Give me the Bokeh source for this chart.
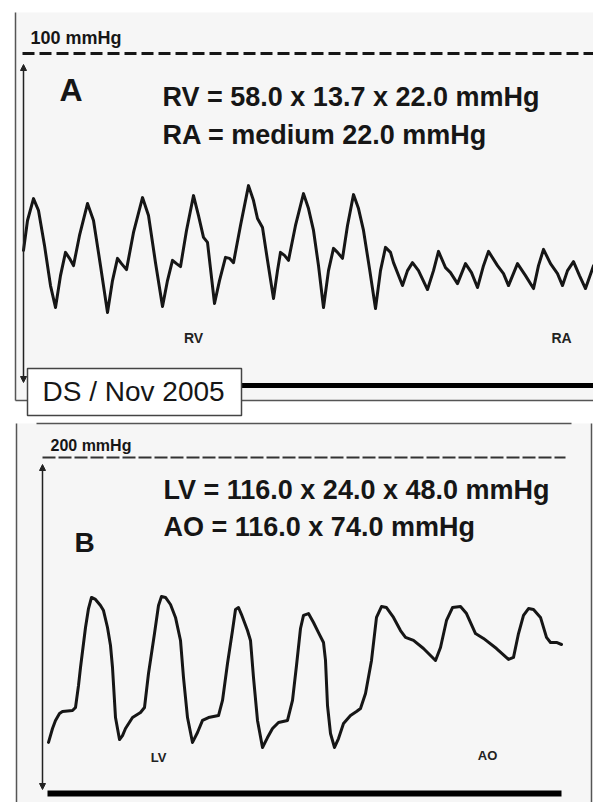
from bokeh.plotting import figure
from bokeh.models import Range1d, Arrow, NormalHead
from bokeh.core.properties import value
from bokeh.embed import file_html
from bokeh.resources import INLINE

# ---------------- data ----------------
# Panel A: RV -> RA pullback, time in ms, pressure in mmHg
a_time_ms = [0, 40, 100, 150, 210, 270, 320, 370, 420, 460, 500, 560, 640, 700, 770, 840,
             890, 940, 980, 1030, 1100, 1190, 1250, 1320, 1390, 1440, 1490, 1530, 1570, 1630,
             1700, 1750, 1800, 1840, 1870, 1910, 1960, 2020, 2060, 2100, 2170, 2250, 2300,
             2340, 2390, 2440, 2500, 2540, 2570, 2610, 2650, 2720, 2800, 2850, 2900, 2950,
             3000, 3050, 3100, 3140, 3190, 3240, 3300, 3350, 3400, 3460, 3520, 3570, 3620,
             3670, 3700, 3790, 3840, 3890, 3950, 4040, 4100, 4150, 4220, 4270, 4340, 4420,
             4480, 4540, 4600, 4650, 4740, 4800, 4850, 4940, 5020, 5100, 5150, 5200, 5270,
             5340, 5390, 5440, 5500, 5560, 5620, 5700]
a_pressure = [40.7, 49.7, 56.3, 52.7, 42.2, 30.1, 23.5, 33.1, 40.1, 38.3, 36.1, 45.2, 54.8,
              49.7, 36.1, 22.0, 31.6, 38.3, 36.7, 34.9, 46.1, 56.6, 51.2, 37.0, 23.8, 31.6,
              37.7, 36.7, 35.8, 46.7, 57.2, 51.2, 44.6, 43.1, 35.2, 24.7, 31.6, 38.6, 38.3,
              37.0, 48.2, 60.2, 55.7, 50.3, 47.6, 37.7, 26.2, 34.6, 40.1, 39.2, 37.7, 48.2,
              57.8, 53.3, 46.7, 36.1, 23.5, 34.6, 41.3, 40.1, 38.3, 48.2, 57.5, 53.3, 46.7,
              35.2, 23.2, 34.6, 41.6, 40.1, 37.0, 30.1, 34.6, 37.0, 34.6, 28.9, 34.6, 40.4,
              35.5, 34.0, 30.7, 36.7, 34.0, 29.5, 36.1, 40.4, 36.1, 33.7, 30.1, 36.7, 33.1,
              29.2, 36.1, 41.0, 36.7, 33.7, 30.1, 34.6, 37.3, 33.1, 29.2, 36.1]

# Panel B: LV -> AO pullback, time in ms, pressure in mmHg
b_time_ms = [0, 40, 70, 110, 140, 240, 270, 300, 320, 370, 400, 430, 470, 520, 550, 590,
             620, 640, 670, 710, 740, 770, 840, 920, 960, 1000, 1060, 1100, 1130, 1170, 1220,
             1270, 1320, 1350, 1390, 1440, 1490, 1540, 1600, 1700, 1740, 1790, 1840, 1870,
             1900, 1930, 1990, 2020, 2050, 2090, 2140, 2190, 2240, 2300, 2390, 2440, 2480,
             2520, 2550, 2600, 2650, 2700, 2750, 2770, 2790, 2820, 2860, 2900, 2950, 3020,
             3080, 3120, 3170, 3230, 3280, 3330, 3380, 3450, 3520, 3570, 3650, 3750, 3870,
             3920, 3980, 4040, 4120, 4180, 4270, 4350, 4480, 4600, 4650, 4700, 4750, 4800,
             4850, 4920, 4980, 5020, 5080, 5130]
b_pressure = [30.4, 38.7, 43.5, 47.6, 48.8, 49.4, 51.2, 64.3, 75.0, 98.8, 110.1, 116.7, 115.5,
              111.9, 108.9, 98.8, 88.1, 75.0, 45.2, 32.1, 34.5, 38.7, 45.2, 48.2, 51.2, 71.4,
              95.2, 111.9, 117.3, 116.7, 112.5, 104.8, 91.1, 69.0, 45.2, 30.4, 36.3, 43.5,
              45.2, 46.4, 55.4, 77.4, 97.0, 109.5, 110.7, 106.5, 97.0, 91.1, 69.0, 43.5, 27.4,
              33.3, 38.7, 42.3, 43.5, 55.4, 76.2, 98.2, 106.0, 107.1, 101.8, 95.8, 89.9, 79.2,
              52.4, 35.7, 27.4, 32.7, 41.7, 46.4, 48.8, 50.6, 59.5, 79.2, 104.8, 111.3, 110.7,
              104.8, 97.0, 92.9, 91.1, 86.3, 79.2, 86.9, 103.0, 110.7, 111.3, 107.1, 95.2, 92.3,
              86.3, 79.8, 81.0, 95.2, 106.0, 110.1, 109.5, 104.8, 92.9, 89.9, 89.9, 88.7]

a_scale_label = "100 mmHg"
b_scale_label = "200 mmHg"
a_scale_value = 100
b_scale_value = 200
a_line1 = "RV = 58.0 x 13.7 x 22.0 mmHg"
a_line2 = "RA = medium 22.0 mmHg"
b_line1 = "LV = 116.0 x 24.0 x 48.0 mmHg"
b_line2 = "AO = 116.0 x 74.0 mmHg"
credit = "DS / Nov 2005"

# ---------------- layout ----------------
W, H = 593, 802
X0, X1 = 0, W               # frame in reference pixel coords
Y_TOP, Y_BOT = 0, H

FONT = value("Liberation Sans")
INK = "#161616"


def lin_range(p0, v0, p1, v1, f_start, f_end):
    s = (v1 - v0) / (p1 - p0)
    return Range1d(start=v0 + (f_start - p0) * s, end=v0 + (f_end - p0) * s)


p = figure(width=W, height=H, output_backend="svg", toolbar_location=None,
           x_range=Range1d(X0, X1), y_range=Range1d(Y_BOT, Y_TOP),
           x_axis_location=None, y_axis_location=None, min_border=0)
p.grid.visible = False
p.outline_line_color = None
p.background_fill_color = "white"
p.border_fill_color = "white"

# Scales: panel A 0 mmHg at y=385, 100 mmHg at y=53 ; 10 ms per pixel
p.extra_y_ranges = {
    "pA": lin_range(385, 0, 53, 100, Y_BOT, Y_TOP),
    "pB": lin_range(793, 0, 457, 200, Y_BOT, Y_TOP),
}
p.extra_x_ranges = {
    "tA": lin_range(23, 0, 33, 100, X0, X1),
    "tB": lin_range(48, 0, 58, 100, X0, X1),
}

# panel backgrounds
p.quad(left=[15, 16], right=[600, 591], top=[12, 423], bottom=[400, 810],
       fill_color="#f6f6f6", line_color=None)

# panel frames
p.segment(x0=[15, 15, 16, 591, 36], y0=[12, 400, 423, 423, 423],
          x1=[15, 600, 16, 591, 571], y1=[400, 400, 810, 810, 423],
          line_color="#555555", line_width=1.5)

# Panel A reference lines (100 mmHg dashed, 0 mmHg thick)
p.line(x=[22, 600], y=[a_scale_value, a_scale_value], y_range_name="pA",
       line_color=INK, line_width=3, line_dash="12 5")
p.line(x=[27, 600], y=[0, 0], y_range_name="pA", line_color="black", line_width=5)

# Panel B reference lines
p.line(x=[42, 565], y=[b_scale_value, b_scale_value], y_range_name="pB",
       line_color="#333333", line_width=2, line_dash="13 3")
p.line(x=[47, 561], y=[0, 0], y_range_name="pB", line_color="black", line_width=6)

# arrows
for (xa, ya0, ya1) in [(23, 382, 64), (42, 789, 464)]:
    p.add_layout(Arrow(x_start=xa, y_start=ya0, x_end=xa, y_end=ya1,
                       line_color="#222222", line_width=1.5,
                       start=NormalHead(size=6, fill_color="#222222", line_color="#222222"),
                       end=NormalHead(size=6, fill_color="#222222", line_color="#222222")))

# waveforms
p.line(x=a_time_ms, y=a_pressure, x_range_name="tA", y_range_name="pA",
       line_color=INK, line_width=3, line_join="round", line_cap="round")
p.line(x=b_time_ms, y=b_pressure, x_range_name="tB", y_range_name="pB",
       line_color=INK, line_width=3, line_join="round", line_cap="round")


def txt(x, y, s, size, style="bold", align="left", color=INK):
    # y is the intended baseline; correct for the renderer's baseline offset
    p.text(x=[x], y=[y - 0.4 * size], text=[s], text_font=FONT,
           text_font_size=f"{size}px", text_font_style=style, text_align=align,
           text_baseline="alphabetic", text_color=color)


txt(30, 45, a_scale_label, 18)
txt(59, 102, "A", 32)
txt(162, 107, a_line1, 27)
txt(162, 145, a_line2, 27)
txt(193, 343, "RV", 14, align="center", color="#222222")
txt(561, 343, "RA", 14, align="center", color="#222222")

txt(50, 451, b_scale_label, 16)
txt(74, 553, "B", 28)
txt(163, 500, b_line1, 27)
txt(163, 537, b_line2, 27)
txt(158, 762, "LV", 13, align="center", color="#222222")
txt(487, 760, "AO", 13, align="center", color="#222222")

# credit box
p.quad(left=[27], right=[241], top=[368], bottom=[415],
       fill_color="white", line_color="#444444", line_width=1.5)
txt(42, 402, credit, 28, style="normal")

open("out.html", "w").write(file_html(p, INLINE))
